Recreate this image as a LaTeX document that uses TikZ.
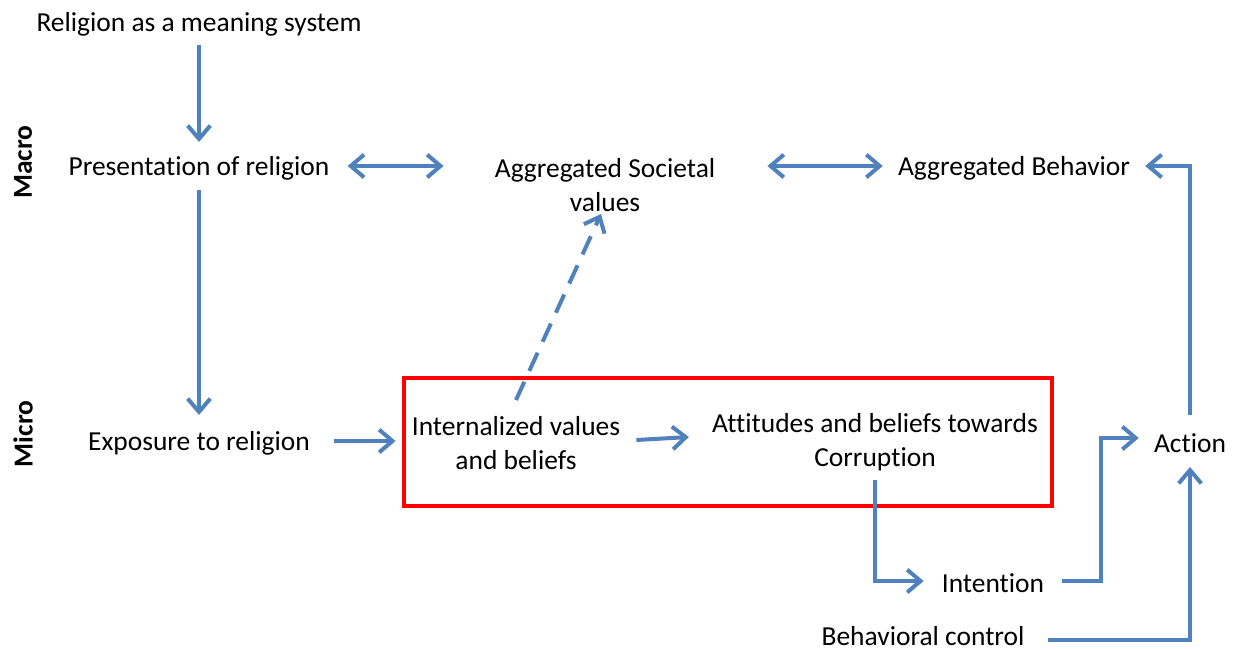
\documentclass[tikz,border=0pt]{standalone}
\usepackage{fontspec}
\setmainfont{Carlito}[Ligatures=NoCommon]
\usetikzlibrary{arrows.meta, calc}
\definecolor{lineblue}{RGB}{79,129,189}
\tikzset{
    label_node/.style={
        inner sep=0pt, align=center, font=\fontsize{20.6}{25.5}\selectfont
    },
    level_node/.style={
        inner sep=0pt, rotate=90, font=\fontsize{20.6}{24}\selectfont\bfseries
    },
    arrow_blue/.style={
        line width=3pt, -{Straight Barb[length=10pt, width=17pt]}, draw=lineblue
    },
    arrow_both/.style={
        line width=3pt, {Straight Barb[length=10pt, width=17pt]}-{Straight Barb[length=10pt, width=17pt]}, draw=lineblue
    },
    arrow_dashed/.style={
        arrow_blue, dash pattern=on 15pt off 9pt
    },
    frame_red/.style={
        line width=3pt, draw=red
    }
}

\begin{document}
\begin{tikzpicture}[x=0.75pt, y=-0.75pt]
    \useasboundingbox (0,0) rectangle (1236,650);

    % Niveles
    \node[level_node] (macro) at (23,162) {Macro};
    \node[level_node] (micro) at (23,434) {Micro};

    % Nivel macro
    \node[label_node] (rel) at (199,24) {Religion as a meaning system};
    \node[label_node] (pres) at (199,168) {Presentation of religion};
    \node[label_node] (soc) at (605,185) {Aggregated Societal\\values};
    \node[label_node] (beh) at (1014,168) {Aggregated Behavior};

    % Nivel micro
    \node[label_node] (expo) at (199,443) {Exposure to religion};
    \node[label_node] (intv) at (516,443) {Internalized values\\and beliefs};
    \node[label_node] (att) at (875,442) {Attitudes and beliefs towards\\Corruption};
    \node[label_node] (act) at (1190,443) {Action};
    \node[label_node] (intent) at (993,583) {Intention};
    \node[label_node] (ctrl) at (923,636) {Behavioral control};

    % Recuadro
    \draw[frame_red] (404,378) rectangle (1052,506);

    % Conexiones macro
    \draw[arrow_blue] ($(rel)+(0,21)$) -- ($(pres)+(0,-26)$);
    \draw[arrow_both] ($(pres.east)+(18,-2)$) -- ($(soc.west |- pres)+(-51,-2)$);
    \draw[arrow_both] ($(soc.east |- beh)+(52,-2)$) -- ($(beh.west)+(-15,-2)$);
    \draw[arrow_blue] ($(act)+(0,-28)$) |- ($(beh.east)+(15,-2)$);

    % Conexiones micro
    \draw[arrow_blue] ($(pres)+(0,22)$) -- ($(expo)+(0,-28)$);
    \draw[arrow_blue] ($(expo.east)+(24,-2)$) -- ($(intv.west)+(-16,-2)$);
    \draw[arrow_blue] ($(intv.east)+(16,-3)$) -- ($(att.west)+(-23,-5)$);
    \draw[arrow_dashed] ($(intv)+(0,-43)$) -- ($(soc)+(-4,29)$);
    \draw[arrow_blue] ($(att)+(0,38)$) |- ($(intent.west)+(-18,-2)$);
    \draw[arrow_blue] ($(intent.east)+(18,-2)$) -- ++(39,0) |- ($(act.west)+(-15,-5)$);
    \draw[arrow_blue] ($(ctrl.east)+(23,4)$) -| ($(act)+(0,24)$);
\end{tikzpicture}
\end{document}
